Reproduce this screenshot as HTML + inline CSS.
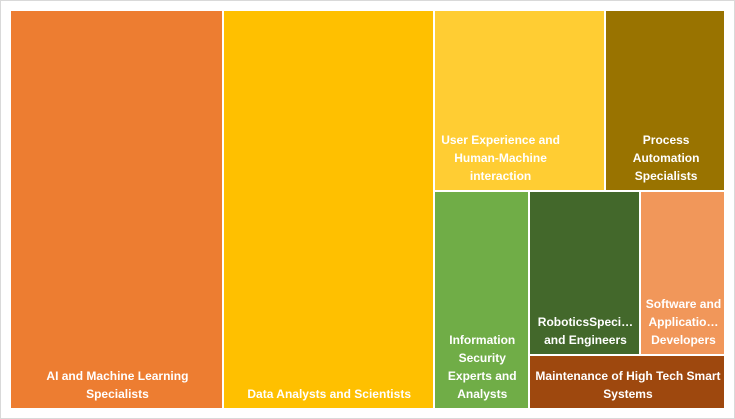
<!DOCTYPE html>
<html><head><meta charset="utf-8"><style>
body{margin:0;background:#fff;}
#chart{position:relative;width:733px;height:417px;border:1px solid #d9d9d9;background:#fff;overflow:hidden;font-family:"Liberation Sans",sans-serif;}
.tile{position:absolute;box-sizing:border-box;border:1px solid #fff;}
.lbl{position:absolute;color:#fff;font-weight:bold;font-size:12px;line-height:18px;text-align:center;}
</style></head><body>
<div id="chart"></div>
<script>
const categories=["AI and Machine Learning Specialists","Data Analysts and Scientists","User Experience and Human-Machine interaction","Process Automation Specialists","Information Security Experts and Analysts","RoboticsSpeci… and Engineers","Software and Applicatio… Developers","Maintenance of High Tech Smart Systems"];
const values=[29.8,29.5,10.9,7.6,7.3,6.4,4.9,3.7];
const colors=["#ed7d31","#ffc000","#ffcd33","#997300","#70ad47","#43682b","#f1975a","#9e480e"];
const labelWidths=[200,200,120,90,85,100,80,190];
// layout tree: nodes with split direction ('h' = side by side, 'v' = stacked)
const tree={d:'h',c:[0,1,{d:'v',c:[{d:'h',c:[2,3]},{d:'h',c:[4,{d:'v',c:[{d:'h',c:[5,6]},7]}]}]}]};
const X0=9,Y0=9,W=715,H=399;
function sum(n){return typeof n==='number'?values[n]:n.c.reduce((a,b)=>a+sum(b),0);}
const rects=[];
function layout(n,x,y,w,h){
  if(typeof n==='number'){rects[n]={x,y,w,h};return;}
  const t=sum(n);let off=0;
  n.c.forEach(ch=>{const f=sum(ch)/t;
    if(n.d==='h'){layout(ch,x+off,y,w*f,h);off+=w*f;}
    else{layout(ch,x,y+off,w,h*f);off+=h*f;}});
}
layout(tree,X0,Y0,W,H);
const chart=document.getElementById('chart');
rects.forEach((r,i)=>{
  const d=document.createElement('div');
  d.className='tile';
  
  
  d.style.left=r.x+'px';d.style.top=r.y+'px';d.style.width=r.w+'px';d.style.height=r.h+'px';
  d.style.background=colors[i];
  const l=document.createElement('div');
  l.className='lbl';
  
  
  l.textContent=categories[i];
  const lw=Math.min(labelWidths[i],r.w-8);
  l.style.width=lw+'px';
  l.style.left=(i===2?6:Math.max(4,(r.w-lw)/2))+'px';
  l.style.bottom='5px';
  d.appendChild(l);
  chart.appendChild(d);
});
</script>
</body></html>
